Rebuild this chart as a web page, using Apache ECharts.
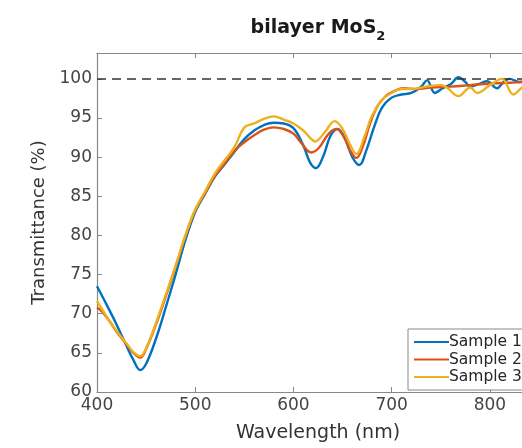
<!DOCTYPE html>
<html><head><meta charset="utf-8">
<script src="https://cdn.jsdelivr.net/npm/echarts@6/dist/echarts.min.js"></script>
<style>html,body{margin:0;padding:0;overflow:hidden;background:#fff;width:522px;height:448px}#c{width:636px;height:448px}</style>
</head><body><div id="c"></div>
<script>
const wavelength1 = [400,410,420,430,437,444,450,460,470,480,490,500,510,520,530,540,550,560,570,580,590,600,610,617,623,630,638,645,652,660,667,674,682,690,700,710,720,730,736,744,752,760,768,775,780,790,797,807,814,820,830,840,850];
const sample1 =     [73.5,71.1,68.6,65.9,64.1,62.8,63.6,66.8,70.8,75.0,79.4,83.0,85.3,87.5,89.1,90.7,92.3,93.4,94.1,94.4,94.3,93.7,91.5,89.3,88.6,90.0,92.8,93.6,92.5,90.0,89.0,90.8,93.8,96.3,97.6,98.0,98.2,99.0,99.8,98.2,98.8,99.3,100.2,99.6,99.0,99.4,99.7,98.8,99.6,100.0,99.6,99.8,99.5];
const wavelength2 = [400,405,413,420,430,437,444,450,460,470,480,490,500,510,520,530,540,550,560,570,580,590,600,608,618,626,636,644,652,658,664,671,678,686,694,702,712,725,740,760,780,800,820,840,850];
const sample2 =     [70.8,70.3,69.0,67.7,66.1,65.0,64.4,65.5,68.6,72.2,76.0,79.9,83.2,85.4,87.6,89.2,90.8,91.9,92.8,93.5,93.8,93.6,93.0,91.8,90.6,91.2,93.0,93.6,92.4,90.8,89.9,91.5,94.3,96.6,97.8,98.4,98.8,98.7,98.9,99.0,99.2,99.4,99.5,99.6,99.6];
const wavelength3 = [400,405,413,420,430,437,444,450,460,470,480,490,500,510,520,530,540,550,560,570,580,590,600,610,616,622,632,642,650,658,664,672,680,690,700,710,720,735,750,756,768,780,787,800,812,824,832,840,850];
const sample3 =     [71.6,70.6,69.0,67.8,66.2,65.1,64.6,65.6,68.8,72.4,76.1,80.0,83.3,85.6,87.9,89.6,91.3,93.8,94.3,94.9,95.2,94.8,94.3,93.4,92.6,92.0,93.2,94.6,93.6,91.5,90.4,92.5,95.3,97.3,98.2,98.7,98.7,99.0,99.2,98.9,97.8,98.9,98.2,99.2,100.0,98.0,98.8,99.3,99.2];
const seriesNames = ['Sample 1','Sample 2','Sample 3'];
const peakLabels = ['C','B','A'];
const peakX = [443, 620, 668];
const peakY = [69.8, 85.4, 85.9];

const colors = ['#0072BD','#D95319','#EDB120'];
const zip = (a,b)=>a.map((v,i)=>[v,b[i]]);
const xs = [wavelength1, wavelength2, wavelength3];
const ys = [sample1, sample2, sample3];
const font = "'DejaVu Sans', Verdana, sans-serif";

const series = seriesNames.map((n,i)=>({
  name:n, type:'line', data: zip(xs[i], ys[i]), smooth:0.4, symbol:'none', showSymbol:false,
  lineStyle:{width:2.4, color:colors[i]}, itemStyle:{color:colors[i]}, z:3+i,
  markLine: i===0 ? {silent:true, symbol:'none', label:{show:false},
    lineStyle:{type:[9,6], color:'#333', width:1.5}, data:[{yAxis:100}]} : undefined
}));
series.push({
  type:'scatter', name:'labels', data: peakLabels.map((l,i)=>({value:[peakX[i],peakY[i]], name:l})),
  symbolSize:1, itemStyle:{opacity:0}, silent:true,
  label:{show:true, position:'inside', formatter:p=>p.name, fontSize:17, fontFamily:font, color:'#262626'}
});

const chart = echarts.init(document.getElementById('c'), null, {renderer:'canvas'});
chart.setOption({
  animation:false,
  backgroundColor:'#fff',
  title:{
    text:'{a|bilayer MoS}{b|2}', left:'center', top:14,
    textStyle:{rich:{
      a:{fontSize:19, fontWeight:'bold', fontFamily:font, color:'#1a1a1a', lineHeight:24, verticalAlign:'top'},
      b:{fontSize:13, fontWeight:'bold', fontFamily:font, color:'#1a1a1a', lineHeight:24, verticalAlign:'bottom', padding:[14,0,0,0]}
    }}
  },
  legend:{
    data:seriesNames, orient:'vertical', left:408, top:329,
    backgroundColor:'#fff', borderColor:'#888', borderWidth:1,
    padding:[4.5,6,4.5,5], itemWidth:35, itemHeight:12, itemGap:0.5,
    itemStyle:{opacity:0},
    textStyle:{fontSize:15.5, lineHeight:17, fontFamily:font, color:'#262626', padding:[0,0,0,-5]}
  },
  grid:{left:97, top:53, right:97, bottom:47},
  xAxis:[{
    type:'value', min:400, max:850, interval:100,
    name:'Wavelength (nm)', nameLocation:'middle', nameGap:32,
    nameTextStyle:{fontSize:19, fontFamily:font, color:'#333'},
    axisLine:{lineStyle:{color:'#888', width:1.2}},
    axisTick:{inside:true, length:5, lineStyle:{color:'#888'}},
    axisLabel:{fontSize:17, fontFamily:font, color:'#444', margin:5, showMaxLabel:false},
    splitLine:{show:false}
  },{
    type:'value', position:'top', min:400, max:850, interval:100,
    axisLine:{lineStyle:{color:'#888', width:1.2}},
    axisTick:{inside:true, length:5, lineStyle:{color:'#888'}},
    axisLabel:{show:false}, splitLine:{show:false}
  }],
  yAxis:[{
    type:'value', min:60, max:103.3, interval:5,
    name:'Transmittance (%)', nameLocation:'middle', nameGap:41, nameRotate:90,
    nameTextStyle:{fontSize:18, fontFamily:font, color:'#333'},
    axisLine:{show:true, lineStyle:{color:'#888', width:1.2}},
    axisTick:{show:true, inside:true, length:5, lineStyle:{color:'#888'}},
    axisLabel:{fontSize:17, fontFamily:font, color:'#444', margin:5, showMaxLabel:false},
    splitLine:{show:false}
  },{
    type:'value', position:'right', min:60, max:103.3, interval:5,
    axisLine:{show:true, lineStyle:{color:'#888', width:1.2}},
    axisTick:{show:true, inside:true, length:5, lineStyle:{color:'#888'}},
    axisLabel:{show:false}, splitLine:{show:false}
  }],
  series: series
});
</script></body></html>
